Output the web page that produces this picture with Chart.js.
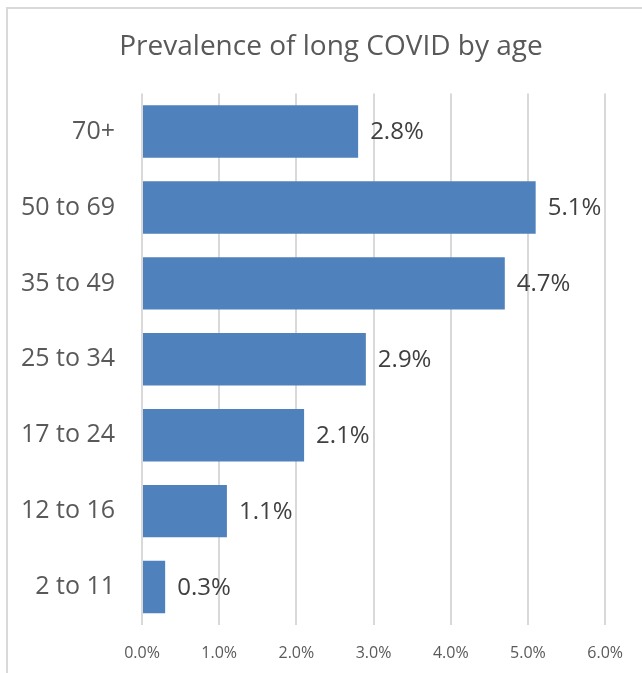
<!DOCTYPE html>
<html>
<head>
<meta charset="utf-8">
<script src="https://cdn.jsdelivr.net/npm/chart.js@4"></script>
<style>
  body { margin: 0; background: #fff; }
  #wrap { position: relative; width: 642px; height: 673px; overflow: hidden; }
  #frame { position: absolute; left: 6px; top: 7px; width: 700px; height: 700px; border: 2px solid #d9d9d9; pointer-events: none; }
</style>
</head>
<body>
<div id="wrap">
  <canvas id="my-chart" width="642" height="673"></canvas>
  <div id="frame"></div>
</div>
<script>
let ages = ['70+', '50 to 69', '35 to 49', '25 to 34', '17 to 24', '12 to 16', '2 to 11'];
let prevalence = [2.8, 5.1, 4.7, 2.9, 2.1, 1.1, 0.3];
let xticks = [0, 1, 2, 3, 4, 5, 6];

let fontname = '"Open Sans", sans-serif';

// draws the value next to the end of each bar
let barlabels = {
  id: 'barlabels',
  afterDatasetsDraw(chart) {
    let ctx = chart.ctx;
    let meta = chart.getDatasetMeta(0);
    ctx.save();
    ctx.font = '24px ' + fontname;
    ctx.fillStyle = '#404040';
    ctx.textAlign = 'left';
    ctx.textBaseline = 'middle';
    meta.data.forEach(function(bar, i) {
      ctx.fillText(prevalence[i].toFixed(1) + '%', bar.x + 12, bar.y + 1);
    });
    ctx.restore();
  }
};

// the original chart frame runs past the right edge, so centre the title on it
let titleshift = {
  id: 'titleshift',
  afterLayout(chart) {
    let t = chart.titleBlock;
    t.left = 6;
    t.right = 656;
    t.width = 650;
  }
};

let chartcontext = document.getElementById('my-chart').getContext('2d');

let chartConfig = {
  type: 'bar',
  data: {
    labels: ages,
    datasets: [{
      data: prevalence,
      backgroundColor: '#4f81bd',
      barPercentage: 0.69,
      categoryPercentage: 1
    }]
  },
  options: {
    indexAxis: 'y',
    responsive: false,
    animation: false,
    layout: { padding: { left: 0, right: 36, top: 0, bottom: 0 } },
    plugins: {
      legend: { display: false },
      tooltip: { enabled: false },
      title: {
        display: true,
        text: 'Prevalence of long COVID by age',
        color: '#595959',
        font: { family: fontname, size: 28, weight: 'normal' },
        padding: { top: 30, bottom: 30 }
      }
    },
    scales: {
      x: {
        min: 0,
        max: 6,
        afterBuildTicks(scale) {
          scale.ticks = xticks.map(function(v) { return { value: v }; });
        },
        afterFit(scale) { scale.height = 48; },
        grid: { color: '#d9d9d9', lineWidth: 2, drawTicks: false },
        border: { display: false },
        ticks: {
          padding: 19,
          color: '#595959',
          font: { family: fontname, size: 16 },
          callback: function(v) { return v.toFixed(1) + '%'; }
        }
      },
      y: {
        afterFit(scale) { scale.width = 142; },
        grid: { display: false, drawTicks: false },
        border: { display: false },
        ticks: {
          padding: 27,
          color: '#595959',
          font: { family: fontname, size: 25 }
        }
      }
    }
  },
  plugins: [barlabels, titleshift]
};

let mychart = new Chart(chartcontext, chartConfig);
</script>
</body>
</html>
